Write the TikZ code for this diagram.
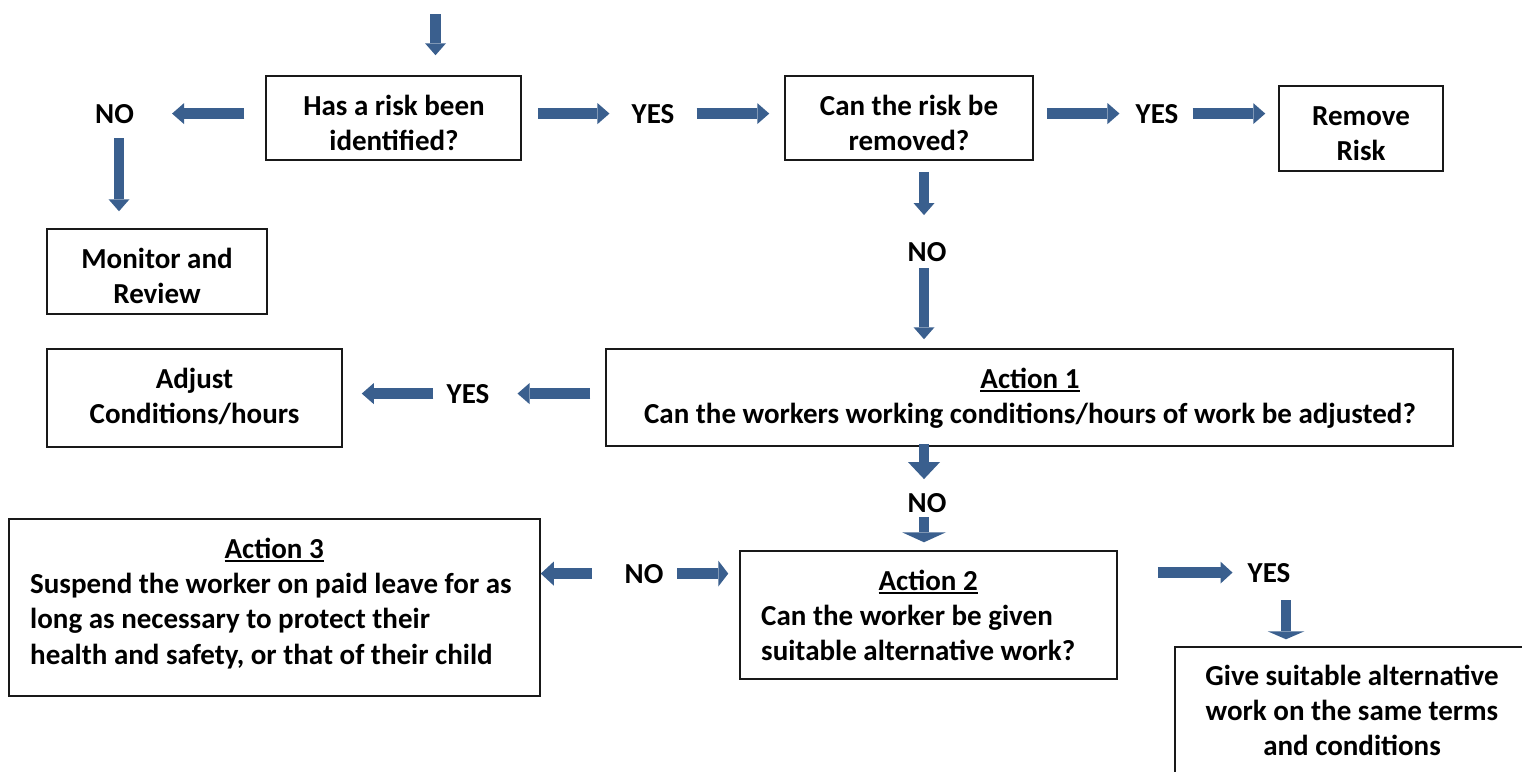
\documentclass[tikz,border=0pt]{standalone}
\usepackage{fontspec}
\setmainfont{Carlito}
\usetikzlibrary{arrows.meta,calc}
\definecolor{arrowblue}{RGB}{58,95,142}
\definecolor{boxline}{RGB}{25,25,25}
\newcommand{\ulx}[1]{\setbox0\hbox{#1}\rlap{\rule[-3.5pt]{\wd0}{1.8pt}}\box0}
\begin{document}
\begin{tikzpicture}[x=1pt,y=-1pt,
  box/.style={draw=boxline, line width=1.5pt, rectangle, inner sep=0pt},
  txt/.style={font=\fontsize{29}{35.4}\selectfont\bfseries, inner sep=0pt, align=center, anchor=base},
  ltxt/.style={font=\fontsize{29}{35.4}\selectfont\bfseries, inner sep=0pt, align=left, anchor=base west},
  lbl/.style={font=\fontsize{29}{35.4}\selectfont\bfseries, inner sep=0pt, anchor=base},
  headsize/.style 2 args={-{Triangle[width=#1,length=#2,line width=0pt]}},
  barrow/.style={draw=arrowblue, line width=10.5pt, headsize={21pt}{12pt}},
]
\useasboundingbox (0,0) rectangle (1522,771);
\clip (0,0) rectangle (1522,771);

% boxes
\node[box, minimum width=255pt, minimum height=84pt] (q1) at (393.5,118) {};
\node[box, minimum width=248pt, minimum height=84pt] (q2) at (909,118) {};
\node[box, minimum width=164pt, minimum height=85pt] (rm) at (1361,128.5) {};
\node[box, minimum width=220pt, minimum height=85pt] (mon) at (157,271.5) {};
\node[box, minimum width=295pt, minimum height=98pt] (adj) at (194.5,398) {};
\node[box, minimum width=847pt, minimum height=97pt] (a1) at (1029.5,397.5) {};
\node[box, minimum width=531pt, minimum height=177pt] (a3) at (274.5,607.5) {};
\node[box, minimum width=377pt, minimum height=128pt] (a2) at (928.5,615) {};
\node[box, minimum width=354pt, minimum height=142pt] (give) at (1352,718) {};

% box texts (anchor = baseline of the last line)
\node[txt] (q1t) at (394,150.4) {Has a risk been\\identified?};
\node[txt] (q2t) at (909,150.4) {Can the risk be\\removed?};
\node[txt] (rmt) at (1361,160.4) {Remove\\Risk};
\node[txt] (mont) at (157,303.4) {Monitor and\\Review};
\node[txt] (adjt) at (194.5,423.4) {Adjust\\Conditions/hours};
\node[txt] (a1t) at (1030,423.4) {\ulx{Action 1}\\Can the workers working conditions/hours of work be adjusted?};
\node[ltxt] (a2t) at (761,660.8) {\makebox[334pt]{\ulx{Action 2}}\\Can the worker be given\\suitable alternative work?};
\node[ltxt] (a3t) at (30,664.2) {\makebox[488pt]{\ulx{Action 3}}\\Suspend the worker on paid leave for as\\long as necessary to protect their\\health and safety, or that of their child};
\node[txt] (givet) at (1352,755.8) {Give suitable alternative\\work on the same terms\\and conditions};

% labels
\node[lbl] (no1) at (114.5,123) {NO};
\node[lbl] (yes1) at (653,123) {YES};
\node[lbl] (yes2) at (1157,123) {YES};
\node[lbl] (no2) at (927,261) {NO};
\node[lbl] (yes3) at (468,403) {YES};
\node[lbl] (no3) at (927,512) {NO};
\node[lbl] (no4) at (644,583) {NO};
\node[lbl] (yes4) at (1269,582) {YES};

% arrows
\coordinate (start) at (435.5,14);
\draw[barrow, shorten >=20pt] (start) -- (start |- q1.north);
\draw[barrow, shorten <=21pt, shorten >=38pt] (q1.west |- no1) -- (no1.east);
\draw[barrow, shorten <=15pt, shorten >=17pt] ([xshift=4.5pt]no1.south) -- ([xshift=4.5pt]no1.south |- mon.north);
\draw[barrow, shorten <=16pt, shorten >=22pt] (q1.east |- yes1) -- (yes1.west);
\draw[barrow, shorten <=22pt, shorten >=15pt] (yes1.east) -- (yes1.east -| q2.west);
\draw[barrow, shorten <=13pt, shorten >=16pt] (q2.east |- yes2) -- (yes2.west);
\draw[barrow, shorten <=14pt, shorten >=13pt] (yes2.east) -- (yes2.east -| rm.west);
\draw[barrow, shorten <=11pt, shorten >=26.7pt] ([xshift=-3pt]no2.north |- q2.south) -- ([xshift=-3pt]no2.north);
\draw[barrow, shorten <=7pt, shorten >=9pt] ([xshift=-3pt]no2.south) -- ([xshift=-3pt]no2.south |- a1.north);
\draw[barrow, shorten <=15pt, shorten >=28pt] (a1.west |- yes3) -- (yes3.east);
\draw[barrow, shorten <=13pt, shorten >=19pt] (yes3.west) -- (yes3.west -| adj.east);
\draw[barrow, headsize={32pt}{17pt}, shorten <=-3pt, shorten >=13.7pt] ([xshift=-3pt]no3.north |- a1.south) -- ([xshift=-3pt]no3.north);
\draw[barrow, headsize={44pt}{10pt}, shorten <=5pt, shorten >=8pt] ([xshift=-3pt]no3.south) -- ([xshift=-3pt]no3.south |- a2.north);
\draw[barrow, headsize={24pt}{13pt}, shorten <=32.6pt] (no4.west) -- (no4.west -| a3.east);
\draw[barrow, headsize={26pt}{10pt}, shorten <=13.6pt, shorten >=11pt] (no4.east) -- (no4.east -| a2.west);
\draw[barrow, headsize={22pt}{12pt}, shorten <=40pt, shorten >=15pt] (a2.east |- yes4) -- (yes4.west);
\draw[barrow, headsize={37pt}{8pt}, shorten <=18pt, shorten >=7pt] ([xshift=17pt]yes4.south) -- ([xshift=17pt]yes4.south |- give.north);
\end{tikzpicture}
\end{document}
